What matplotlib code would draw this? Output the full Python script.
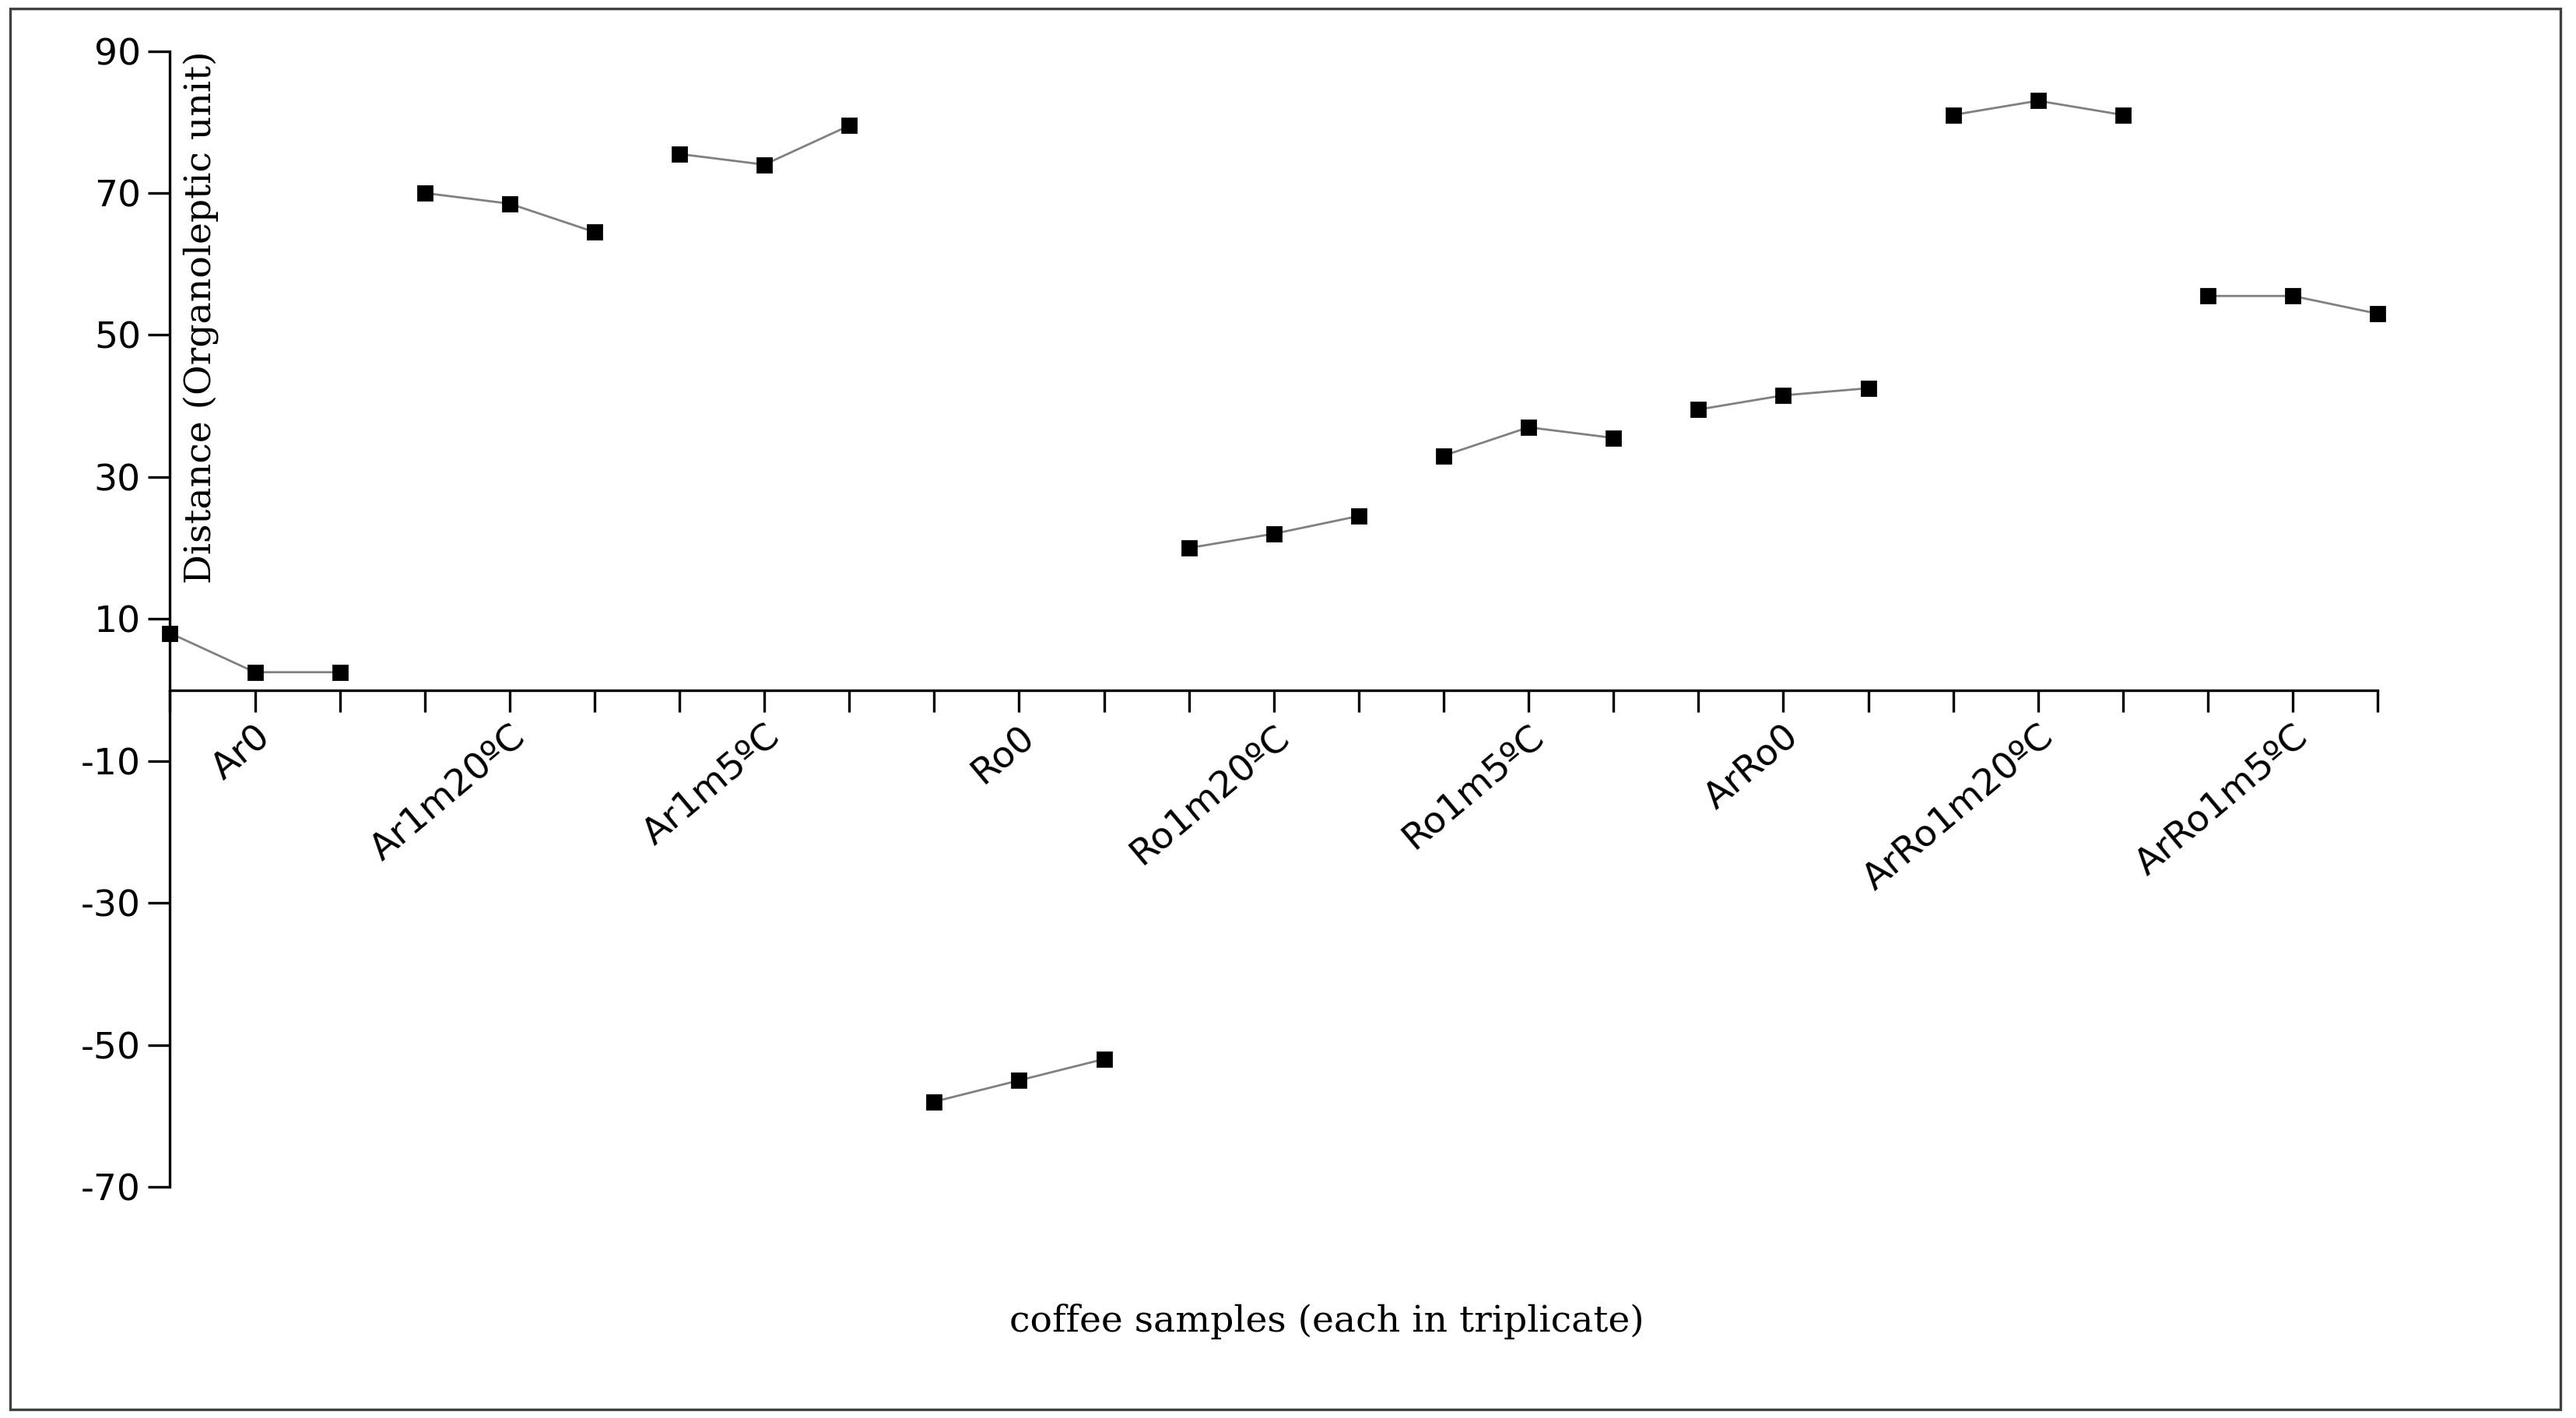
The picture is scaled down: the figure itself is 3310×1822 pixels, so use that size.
import numpy as np
import matplotlib.pyplot as plt
from matplotlib.patches import Rectangle

plt.rcParams["axes.unicode_minus"] = False

samples = ["Ar0", "Ar1m20\u00baC", "Ar1m5\u00baC", "Ro0", "Ro1m20\u00baC",
           "Ro1m5\u00baC", "ArRo0", "ArRo1m20\u00baC", "ArRo1m5\u00baC"]
distance = [
    [8, 2.5, 2.5],
    [70, 68.5, 64.5],
    [75.5, 74, 79.5],
    [-58, -55, -52],
    [20, 22, 24.5],
    [33, 37, 35.5],
    [39.5, 41.5, 42.5],
    [81, 83, 81],
    [55.5, 55.5, 53],
]

fig = plt.figure(figsize=(16.55, 9.11), dpi=200)
ax = fig.add_axes([0.066, 0.163, 0.857, 0.801])

for i, vals in enumerate(distance):
    xs = np.arange(3) + 3 * i
    ax.plot(xs, vals, color="#808080", lw=1.0, marker="s", ms=6.5,
            mfc="black", mec="black", zorder=3, clip_on=False)

n = 3 * len(samples)
ax.set_xlim(0, n - 1)
ax.set_ylim(-70, 90)
ax.set_yticks(range(-70, 91, 20))
ax.set_xticks(range(n))
ax.set_xticklabels(["" if k % 3 != 1 else samples[k // 3] for k in range(n)])
ax.tick_params(axis="x", direction="out", length=10, width=1.2)
ax.tick_params(axis="y", direction="out", length=10, width=1.2, labelsize=17)
ax.spines["bottom"].set_position(("data", 0))
ax.spines["top"].set_visible(False)
ax.spines["right"].set_visible(False)
for s in ("left", "bottom"):
    ax.spines[s].set_linewidth(1.2)
plt.setp(ax.get_xticklabels(), rotation=40, ha="right", rotation_mode="anchor",
         fontsize=17)

ax.text(0.006, 1.0, "Distance (Organoleptic unit)", transform=ax.transAxes,
        rotation=90, va="top", ha="left", fontsize=17, family="DejaVu Serif")
fig.text(0.515, 0.068, "coffee samples (each in triplicate)", ha="center",
         va="center", fontsize=17, family="DejaVu Serif")

fig.patches.append(Rectangle((0.004, 0.006), 0.99, 0.988, transform=fig.transFigure,
                             fill=False, ec="#404040", lw=1.2))

fig.savefig("out.png", dpi=200)
